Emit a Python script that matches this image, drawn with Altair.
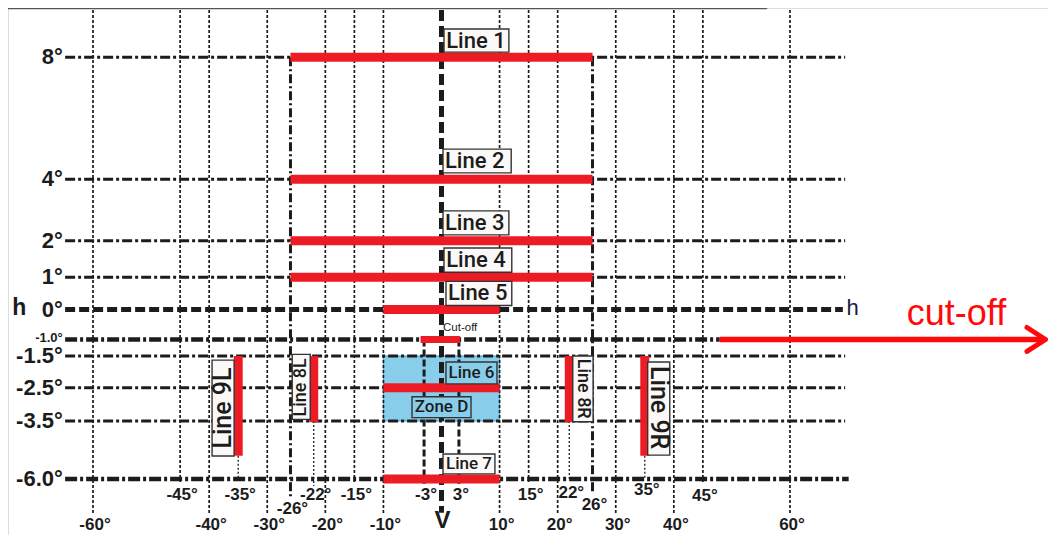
import altair as alt
import pandas as pd

FONT = "Liberation Sans"
LABEL_FONT = "Roboto"
RED = "#ED1C24"
ARROW_RED = "#FF0A0A"
INK = "#1c1c1c"
BLUE = "#88CDEA"
BOX = "#FBF9F7"

# ---------------- data ----------------
# horizontal reference levels (degrees)
dashdot_levels = [8, 4, 2, 1, -1.5, -2.5, -3.5]
h_levels = [0]
bold_dashdot_levels = [-6.0]
cutoff_levels = [-1.0]
line_left = -64.8
line_right = 69.5
cutoff_black_end = 47.9

# vertical reference positions (degrees)
v_main = [-60, -40, -30, -20, -10, 10, 20, 30, 40, 60]
v_minor = [-45, -15, 15, 45]
v_bold = [-26, 26]
v_bold_bottom = [-6.8, -6.6]
v_near = [-3, 3]
v_dotted = [-35, -22, 22, 35]
v_dotted_top = [-5, -3.5, -3.5, -5]
v_dotted_bottom = [-6, -6.3, -6.05, -6]
v_top = 9.55
v_main_bottom = -7.47
v_minor_bottom = -6.13
v_center_bottom = -7.45
v_near_top = -1.0
v_near_bottom = -6.2

# red measuring lines
hbar_names = ["Line 1", "Line 2", "Line 3", "Line 4", "Line 5", "Line 6", "Line 7"]
hbar_y = [8, 4, 2, 1, 0, -2.5, -6]
hbar_x1 = [-26, -26, -26, -26, -10, -10, -10]
hbar_x2 = [26, 26, 26, 26, 10, 10, 10]
cut_bar_y = [-1]
cut_bar_x1 = [-3.6]
cut_bar_x2 = [3.2]
vbar_names = ["Line 9L", "Line 8L", "Line 8R", "Line 9R"]
vbar_x = [-35, -22, 22, 35]
vbar_y1 = [-1.5, -1.5, -1.5, -1.5]
vbar_y2 = [-5, -3.55, -3.55, -5]

# zone D
zone_x = [-10]
zone_x2 = [10]
zone_y = [-1.5]
zone_y2 = [-3.5]

# label boxes above the horizontal lines
hl_text = ["Line 1", "Line 2", "Line 3", "Line 4", "Line 5"]
hl_x1 = [0.43, 0.26, 0.26, 0.43, 0.77]
hl_x2 = [11.6, 12.0, 11.6, 12.1, 12.1]
hl_y1 = [8.17, 4.21, 2.19, 1.14, 0.125]
hl_y2 = [8.93, 4.99, 2.97, 1.80, 0.875]
hl_tx = [0.8, 0.6, 0.6, 0.8, 1.1]
hl_ty = [8.53, 4.6, 2.58, 1.47, 0.5]

# small labels (Line 6 / Zone D / Line 7)
sl_text = ["Line 6", "Zone D", "Line 7"]
sl_x1 = [0.77, -5.08, 0.26]
sl_x2 = [9.55, 5.08, 9.2]
sl_y1 = [-1.69, -2.77, -4.92]
sl_y2 = [-2.38, -3.40, -5.78]
sl_tx = [5.16, 0.0, 4.73]
sl_ty = [-2.04, -3.09, -5.35]
sl_fill = [BLUE, BLUE, BOX]

# rotated labels
rl_left_text = ["Line 8L", "Line 9L"]
rl_left_x1 = [-25.7, -39.5]
rl_left_x2 = [-22.6, -35.7]
rl_left_y1 = [-1.45, -1.63]
rl_left_y2 = [-3.45, -5.01]
rl_left_tx = [-24.2, -37.6]
rl_left_ty = [-2.49, -3.11]
rl_left_size = [18, 25]
rl_right_text = ["Line 8R", "Line 9R"]
rl_right_x1 = [22.6, 35.5]
rl_right_x2 = [26.1, 39.3]
rl_right_y1 = [-1.5, -1.69]
rl_right_y2 = [-3.53, -4.97]
rl_right_tx = [24.35, 37.4]
rl_right_ty = [-2.53, -3.1]
rl_right_size = [18, 25]

# vertical-axis labels
ylab_big = ["8°", "4°", "2°", "1°", "0°", "-1.5°", "-2.5°", "-3.5°", "-6.0°"]
ylab_big_y = [8, 4, 2, 1, 0, -1.5, -2.5, -3.5, -6.0]
ylab_small = ["-1.0°"]
ylab_small_y = [-0.95]
ylab_x = -65.2
h_mark_x = [-72.7, 70.8]
h_mark_y = [0.05, 0.05]

# horizontal-axis labels
xlab_low = ["-60°", "-40°", "-30°", "-20°", "-10°", "10°", "20°", "30°", "40°", "60°"]
xlab_low_x = [-60, -40, -30, -20, -10, 10, 20, 30, 40, 60]
xlab_low_y = -8.18
xlab_up = ["-45°", "-35°", "-22°", "-15°", "-3°", "3°", "15°", "22°", "35°", "45°", "-26°", "26°"]
xlab_up_x = [-45, -35, -22, -15, -3, 3, 15, 22, 35, 45, -26, 26]
xlab_up_y = [-6.69, -6.69, -6.69, -6.69, -6.69, -6.69, -6.69, -6.6, -6.47, -6.72, -7.3, -7.12]
v_label = ["V"]
v_label_y = [-8.13]

# cut-off arrow
arrow_x1 = [47.9]
arrow_x2 = [103.6]
arrow_y = [-1.0]
chev_x = [100.8, 104.0, 100.8]
chev_y = [-0.6, -1.0, -1.36]
cut_text = ["cut-off"]
cut_text_x = [80.1]
cut_text_y = [-0.5]
small_cut_text = ["Cut-off"]
small_cut_x = [0.26]
small_cut_y = [-0.6]

# top frame edge
frame_x1 = [-80]
frame_x2 = [56]
frame_y = [9.6]
frame_top = [10.2]

# ---------------- scales ----------------
XS = alt.Scale(domain=[-60, 60], range=[85, 782], zero=False, nice=False)
YS = alt.Scale(domain=[-6, -3.5, -2.5, -1.5, -1, 0, 1, 2, 4, 8],
               range=[471, 413, 379.7, 348, 331.5, 301.5, 269.3, 232.7, 171.3, 49.3],
               zero=False, nice=False)


def X(f):
    return alt.X(f, type="quantitative", scale=XS, axis=None)


def Y(f):
    return alt.Y(f, type="quantitative", scale=YS, axis=None)


def hrules(levels, x1, x2, **kw):
    df = pd.DataFrame({"y": levels, "x": [x1] * len(levels), "x2": [x2] * len(levels)})
    return alt.Chart(df).mark_rule(color=INK, strokeCap="butt", **kw).encode(
        x=X("x"), x2="x2:Q", y=Y("y"))


def vrules(xs, y1, y2, **kw):
    if not isinstance(y1, list):
        y1 = [y1] * len(xs)
    if not isinstance(y2, list):
        y2 = [y2] * len(xs)
    df = pd.DataFrame({"x": xs, "y": y1, "y2": y2})
    return alt.Chart(df).mark_rule(color=INK, strokeCap="butt", **kw).encode(
        x=X("x"), y=Y("y"), y2="y2:Q")


layers = []

# zone D
layers.append(alt.Chart(pd.DataFrame({"x": zone_x, "x2": zone_x2, "y": zone_y, "y2": zone_y2}))
              .mark_rect(fill=BLUE, stroke="#3FA6D8", strokeWidth=1)
              .encode(x=X("x"), x2="x2:Q", y=Y("y"), y2="y2:Q"))

# vertical grid
layers.append(vrules(v_main, v_top, v_main_bottom, strokeWidth=1.7, strokeDash=[3, 2]))
layers.append(vrules(v_minor, v_top, v_minor_bottom, strokeWidth=1.7, strokeDash=[3, 2]))
layers.append(vrules(v_dotted, v_dotted_top, v_dotted_bottom, strokeWidth=1.3, strokeDash=[2, 2]))
layers.append(vrules(v_near, v_near_top, v_near_bottom, strokeWidth=3, strokeDash=[7, 3]))
layers.append(vrules(v_bold, 8, v_bold_bottom, strokeWidth=3, strokeDash=[9, 3, 2, 3]))
layers.append(vrules([0], v_top, v_center_bottom, strokeWidth=5, strokeDash=[11, 5]))

# horizontal grid
layers.append(hrules(dashdot_levels, line_left, line_right, strokeWidth=3, strokeDash=[10, 3, 3, 3]))
layers.append(hrules(h_levels, line_left, line_right - 0.4, strokeWidth=5, strokeDash=[10, 4]))
layers.append(hrules(bold_dashdot_levels, line_left, line_right + 0.6, strokeWidth=4.5, strokeDash=[12, 3, 3, 3]))
layers.append(hrules(cutoff_levels, line_left, cutoff_black_end, strokeWidth=4.5, strokeDash=[12, 3, 3, 3]))

# top frame edge
layers.append(alt.Chart(pd.DataFrame({"x": frame_x1, "x2": frame_x2, "y": frame_y}))
              .mark_rule(color="#555555", strokeWidth=1.5)
              .encode(x=X("x"), x2="x2:Q", y=Y("y")))
layers.append(alt.Chart(pd.DataFrame({"x": frame_x2, "y": frame_y, "y2": frame_top}))
              .mark_rule(color="#555555", strokeWidth=1.5)
              .encode(x=X("x"), y=Y("y"), y2="y2:Q"))

# red bars
layers.append(alt.Chart(pd.DataFrame({"n": hbar_names, "y": hbar_y, "x": hbar_x1, "x2": hbar_x2}))
              .mark_rule(color=RED, strokeWidth=9, strokeCap="butt")
              .encode(x=X("x"), x2="x2:Q", y=Y("y")))
layers.append(alt.Chart(pd.DataFrame({"y": cut_bar_y, "x": cut_bar_x1, "x2": cut_bar_x2}))
              .mark_rule(color=RED, strokeWidth=7, strokeCap="butt")
              .encode(x=X("x"), x2="x2:Q", y=Y("y")))
layers.append(alt.Chart(pd.DataFrame({"n": vbar_names, "x": vbar_x, "y": vbar_y1, "y2": vbar_y2}))
              .mark_rule(color=RED, strokeWidth=9, strokeCap="butt")
              .encode(x=X("x"), y=Y("y"), y2="y2:Q"))

# label boxes
def boxes(x1, x2, y1, y2, fill):
    df = pd.DataFrame({"x": x1, "x2": x2, "y": y1, "y2": y2, "f": fill})
    return alt.Chart(df).mark_rect(stroke="#333333", strokeWidth=1.4).encode(
        x=X("x"), x2="x2:Q", y=Y("y"), y2="y2:Q",
        fill=alt.Fill("f:N", scale=None))


layers.append(boxes(hl_x1, hl_x2, hl_y1, hl_y2, [BOX] * len(hl_x1)))
layers.append(boxes(sl_x1, sl_x2, sl_y1, sl_y2, sl_fill))
layers.append(boxes(rl_left_x1, rl_left_x2, rl_left_y1, rl_left_y2, [BOX] * 2))
layers.append(boxes(rl_right_x1, rl_right_x2, rl_right_y1, rl_right_y2, [BOX] * 2))


def texts(t, x, y, size, align="center", weight="normal", color=INK, angle=0,
          baseline="middle", dx=0, font=FONT):
    df = pd.DataFrame({"t": t, "x": x, "y": y})
    kw = dict(font=font, fontSize=size, align=align, fontWeight=weight, color=color,
              baseline=baseline, dx=dx)
    if angle:
        kw["angle"] = angle
    return alt.Chart(df).mark_text(**kw).encode(x=X("x"), y=Y("y"), text="t:N")


layers.append(texts(hl_text, hl_tx, hl_ty, 22, align="left", weight=500, font=LABEL_FONT))
layers.append(texts(sl_text, sl_tx, sl_ty, 17, weight=500, font=LABEL_FONT))
for t, x, y, s in zip(rl_left_text, rl_left_tx, rl_left_ty, rl_left_size):
    layers.append(texts([t], [x], [y], s, angle=270, weight=500, font=LABEL_FONT))
for t, x, y, s in zip(rl_right_text, rl_right_tx, rl_right_ty, rl_right_size):
    layers.append(texts([t], [x], [y], s, angle=90, weight=500, font=LABEL_FONT))
layers.append(texts(small_cut_text, small_cut_x, small_cut_y, 11.5, align="left"))

# axis labels
layers.append(texts(ylab_big, [ylab_x] * len(ylab_big), ylab_big_y, 22, align="right", weight="bold"))
layers.append(texts(ylab_small, [ylab_x] * len(ylab_small), ylab_small_y, 13, align="right", weight="bold"))
layers.append(texts(["h"], h_mark_x[:1], h_mark_y[:1], 23, weight="bold"))
layers.append(texts(["h"], h_mark_x[1:], h_mark_y[1:], 22, color="#1a1a3a"))
layers.append(texts(xlab_low, xlab_low_x, [xlab_low_y] * len(xlab_low), 17, weight="bold", dx=2,
                    baseline="alphabetic"))
layers.append(texts(xlab_up, xlab_up_x, xlab_up_y, 17, weight="bold", dx=2))
layers.append(texts(v_label, [0], v_label_y, 24, weight="bold", dx=1, baseline="alphabetic"))

# cut-off arrow and text
layers.append(alt.Chart(pd.DataFrame({"x": arrow_x1, "x2": arrow_x2, "y": arrow_y}))
              .mark_rule(color=ARROW_RED, strokeWidth=5.5, strokeCap="butt")
              .encode(x=X("x"), x2="x2:Q", y=Y("y")))
layers.append(alt.Chart(pd.DataFrame({"x": chev_x, "y": chev_y, "i": [0, 1, 2]}))
              .mark_line(color=ARROW_RED, strokeWidth=5, strokeCap="round", strokeJoin="round")
              .encode(x=X("x"), y=Y("y"), order="i:Q"))
layers.append(texts(cut_text, cut_text_x, cut_text_y, 36, align="left", color=ARROW_RED,
                    baseline="alphabetic"))

chart = alt.layer(*layers).properties(
    width=1040, height=527, padding=0, autosize=alt.AutoSizeParams(type="none")
).configure_view(stroke="transparent", strokeWidth=0).configure(background="white")

chart.save("out.html", embed_options={"renderer": "svg", "actions": False})
